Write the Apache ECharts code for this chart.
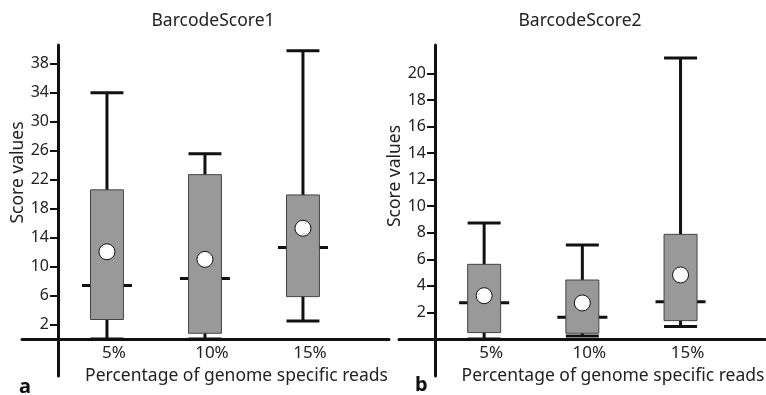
<!DOCTYPE html>
<html>
<head>
<meta charset="utf-8">
<script src="https://cdn.jsdelivr.net/npm/echarts@6/dist/echarts.min.js"></script>
<style>
  html, body { margin: 0; padding: 0; background: #fff; }
  #chart { width: 766px; height: 395px; }
</style>
</head>
<body>
<div id="chart"></div>
<script>
const categories = ['5%', '10%', '15%']
const catPos = [0.5, 1.5, 2.5]

// per category: [min, q1, median, q3, max, mean]
const score1 = [
  [0, 2.7, 7.4, 20.6, 34.0, 12.05],
  [0, 0.8, 8.35, 22.7, 25.6, 11.0],
  [2.5, 5.86, 12.65, 19.9, 39.8, 15.3]
]
const score2 = [
  [0, 0.48, 2.73, 5.62, 8.73, 3.26],
  [0.22, 0.43, 1.63, 4.44, 7.08, 2.71],
  [0.93, 1.38, 2.81, 7.88, 21.16, 4.82]
]
const ticks1 = [2, 6, 10, 14, 18, 22, 26, 30, 34, 38]
const ticks2 = [2, 4, 6, 8, 10, 12, 14, 16, 18, 20]

const FONT = 'Noto Sans'
const INK = '#111'

function renderBox(params, api) {
  const x = api.value(0)
  const p = i => api.coord([x, api.value(i)])
  const lo = p(1), q1 = p(2), med = p(3), q3 = p(4), hi = p(5), mean = p(6)
  const unit = api.size([1, 0])[0]
  const half = unit * 0.168, medHalf = unit * 0.255
  const cx = lo[0]
  const line = (x1, y1, x2, y2) => ({ type: 'line', shape: { x1, y1, x2, y2 }, style: { stroke: INK, lineWidth: 3 } })
  return {
    type: 'group',
    children: [
      line(cx, lo[1], cx, hi[1]),
      line(cx - half, hi[1], cx + half, hi[1]),
      line(cx - half, lo[1], cx + half, lo[1]),
      line(cx - medHalf, med[1], cx + medHalf, med[1]),
      { type: 'rect', shape: { x: cx - half, y: q3[1], width: half * 2, height: q1[1] - q3[1] },
        style: { fill: '#999', stroke: '#444', lineWidth: 1 } },
      { type: 'circle', shape: { cx, cy: mean[1], r: 8 }, style: { fill: '#fff', stroke: INK, lineWidth: 1 } }
    ]
  }
}

// axes are pulled inside the grid with a negative offset so they cross like in the figure
function xAxis(gridIndex, min, max) {
  return {
    type: 'value', gridIndex, min, max, offset: -37,
    name: 'Percentage of genome specific reads', nameLocation: 'middle', nameGap: 24,
    nameTextStyle: { fontFamily: FONT, fontSize: 17.5, color: '#222', padding: [0, 0, 0, 62] },
    axisLine: { onZero: false, lineStyle: { color: INK, width: 3 } },
    axisTick: { show: false },
    splitLine: { show: false },
    axisLabel: { customValues: catPos, formatter: v => categories[catPos.indexOf(v)] || '',
      fontFamily: FONT, fontSize: 17, color: '#222', margin: 6, padding: [0, 0, 0, 14] }
  }
}

function yAxis(gridIndex, min, max, ticks, gap, shift) {
  return {
    type: 'value', gridIndex, min, max, offset: -36,
    name: 'Score values', nameLocation: 'middle', nameGap: gap,
    nameTextStyle: { fontFamily: FONT, fontSize: 17.5, color: '#222', padding: [0, 0, 0, shift] },
    axisLine: { onZero: false, lineStyle: { color: INK, width: 3 } },
    axisTick: { customValues: ticks, length: 8, lineStyle: { color: INK, width: 2 } },
    splitLine: { show: false },
    axisLabel: { customValues: ticks, fontFamily: FONT, fontSize: 16, color: '#222', margin: 9 }
  }
}

const chart = echarts.init(document.getElementById('chart'), null, { renderer: 'canvas' })
chart.setOption({
  backgroundColor: '#fff',
  animation: false,
  title: [
    { text: 'BarcodeScore1', left: 213, top: 12, textAlign: 'center', padding: 0,
      textStyle: { fontFamily: FONT, fontSize: 17.5, fontWeight: 'normal', color: '#222' } },
    { text: 'BarcodeScore2', left: 580, top: 12, textAlign: 'center', padding: 0,
      textStyle: { fontFamily: FONT, fontSize: 17.5, fontWeight: 'normal', color: '#222' } },
    { text: 'a', left: 19, top: 377, padding: 0,
      textStyle: { fontFamily: FONT, fontSize: 20, fontWeight: 'bold', color: '#111' } },
    { text: 'b', left: 415, top: 375, padding: 0,
      textStyle: { fontFamily: FONT, fontSize: 20, fontWeight: 'bold', color: '#111' } }
  ],
  grid: [
    { left: 22, top: 45, width: 367, height: 331, outerBoundsMode: 'none' },
    { left: 399, top: 45, width: 366, height: 331, outerBoundsMode: 'none' }
  ],
  xAxis: [xAxis(0, -0.367, 3.378), xAxis(1, -0.367, 3.36)],
  yAxis: [yAxis(0, -5.1, 40.6, ticks1, 30, 76), yAxis(1, -2.79, 22.14, ticks2, 28, 69)],
  series: [
    { type: 'custom', xAxisIndex: 0, yAxisIndex: 0, renderItem: renderBox,
      data: score1.map((d, i) => [catPos[i], ...d]) },
    { type: 'custom', xAxisIndex: 1, yAxisIndex: 1, renderItem: renderBox,
      data: score2.map((d, i) => [catPos[i], ...d]) }
  ]
})
window.addEventListener('resize', () => chart.resize())
</script>
</body>
</html>
